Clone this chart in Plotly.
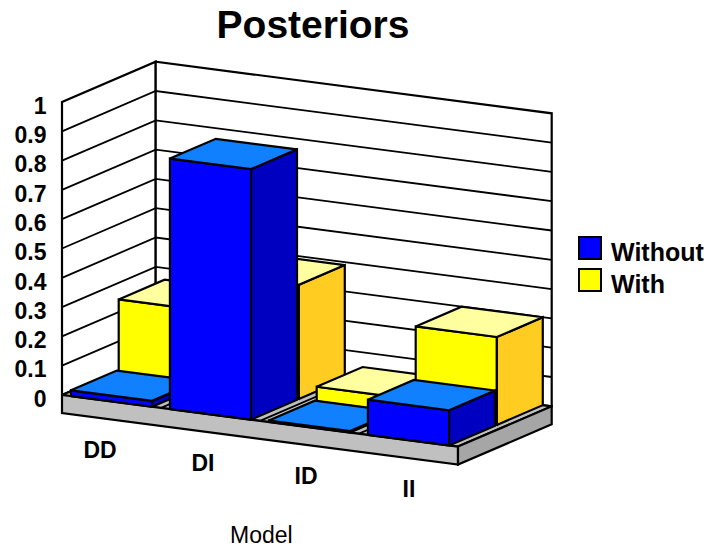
import plotly.graph_objects as go

# ---- data ----
categories = ["DD", "DI", "ID", "II"]
series_names = ["Without", "With"]
without_values = [0.02, 0.855, 0.005, 0.12]
with_values = [0.26, 0.39, 0.05, 0.30]
value_ticks = [0, 0.1, 0.2, 0.3, 0.4, 0.5, 0.6, 0.7, 0.8, 0.9, 1]
axis_title = "Model"
chart_title = "Posteriors"

# ---- oblique projection: (category u, depth v, value h) -> page pixels ----
ORIGIN = (62.0, 395.0)
U_VEC = (99.0, 12.9)
V_VEC = (46.85, -20.15)
H_SCALE = 293.0
SLAB = 18.0
BAR_U0, BAR_U1 = 0.09, 0.91
ROW_V = [(0.0, 0.98), (1.02, 2.0)]


def P(u, v, h=0.0, drop=0.0):
    return (ORIGIN[0] + u * U_VEC[0] + v * V_VEC[0],
            ORIGIN[1] + u * U_VEC[1] + v * V_VEC[1] - h * H_SCALE + drop)


fig = go.Figure()


def poly(points, fill=None, lw=2.2):
    xs = [p[0] for p in points]
    ys = [p[1] for p in points]
    if fill is not None:
        xs.append(xs[0])
        ys.append(ys[0])
    fig.add_trace(go.Scatter(
        x=xs, y=ys, mode="lines", showlegend=False, hoverinfo="skip",
        line=dict(color="black", width=lw, simplify=False),
        fill="toself" if fill else "none", fillcolor=fill,
    ))


# walls
poly([P(0, 0, 0), P(0, 0, 1), P(0, 2, 1), P(0, 2, 0)], "white")
poly([P(0, 2, 0), P(0, 2, 1), P(4, 2, 1), P(4, 2, 0)], "white")
for t in value_ticks[1:-1]:
    poly([P(0, 0, t), P(0, 2, t), P(4, 2, t)], None, 1.8)

# slab
poly([P(0, 0), P(4, 0), P(4, 2), P(0, 2)], "#C0C0C0")
poly([P(0, 0), P(4, 0), P(4, 0, 0, SLAB), P(0, 0, 0, SLAB)], "#C0C0C0")
poly([P(4, 0), P(4, 2), P(4, 2, 0, SLAB), P(4, 0, 0, SLAB)], "#A6A6A6")
for i in range(1, len(categories)):
    poly([P(i, 0), P(i, 2)], None, 1.8)


def bar(i, row, value, front, top, side):
    u0, u1 = i + BAR_U0, i + BAR_U1
    v0, v1 = ROW_V[row]
    poly([P(u0, v0, 0), P(u1, v0, 0), P(u1, v0, value), P(u0, v0, value)], front)
    poly([P(u1, v0, 0), P(u1, v1, 0), P(u1, v1, value), P(u1, v0, value)], side)
    poly([P(u0, v0, value), P(u1, v0, value), P(u1, v1, value), P(u0, v1, value)], top)


for i, val in enumerate(with_values):
    bar(i, 1, val, "#FFFF00", "#FFFFA0", "#FFCC22")
for i, val in enumerate(without_values):
    bar(i, 0, val, "#0000FF", "#1080FF", "#0000C0")

# value labels
fig.add_trace(go.Scatter(
    x=[46.5] * len(value_ticks),
    y=[P(0, 0, t)[1] + 6 for t in value_ticks],
    text=[f"{t:g}" for t in value_ticks],
    mode="text", textposition="middle left", showlegend=False, hoverinfo="skip",
    textfont=dict(family="Liberation Sans", size=23, color="black", weight="bold"),
))

# category labels
fig.add_trace(go.Scatter(
    x=[P(i + 0.5, 0, 0, SLAB)[0] - 11.5 + 4 * i for i in range(4)],
    y=[P(i + 0.5, 0, 0, SLAB)[1] + 33 for i in range(4)],
    text=categories,
    mode="text", textposition="middle center", showlegend=False, hoverinfo="skip",
    textfont=dict(family="Liberation Sans", size=23, color="black", weight="bold"),
))

# legend
fig.add_trace(go.Scatter(
    x=[590, 590], y=[248, 280],
    mode="markers", showlegend=False, hoverinfo="skip",
    marker=dict(symbol="square", size=22, color=["#0000FF", "#FFFF00"],
                line=dict(color="black", width=2)),
))
fig.add_trace(go.Scatter(
    x=[611, 611], y=[255, 287], text=series_names,
    mode="text", textposition="middle right", showlegend=False, hoverinfo="skip",
    textfont=dict(family="Liberation Sans", size=25, color="black", weight="bold"),
))

fig.add_annotation(x=261, y=535, text=axis_title, showarrow=False, xref="x", yref="y",
                   font=dict(family="Liberation Sans", size=23, color="black"))

fig.update_layout(
    width=713, height=548, autosize=False,
    margin=dict(l=0, r=0, t=0, b=0, pad=0),
    paper_bgcolor="white", plot_bgcolor="white", showlegend=False,
    title=dict(text=f"<b>{chart_title}</b>", x=313 / 713, xanchor="center",
               y=1 - 24 / 548, yanchor="middle",
               font=dict(family="Liberation Sans", size=39, color="black")),
    xaxis=dict(visible=False, range=[0, 713], fixedrange=True),
    yaxis=dict(visible=False, range=[548, 0], fixedrange=True),
)

fig.write_html("out.html", post_script="document.body.style.margin='0';", config={"displayModeBar": False})
